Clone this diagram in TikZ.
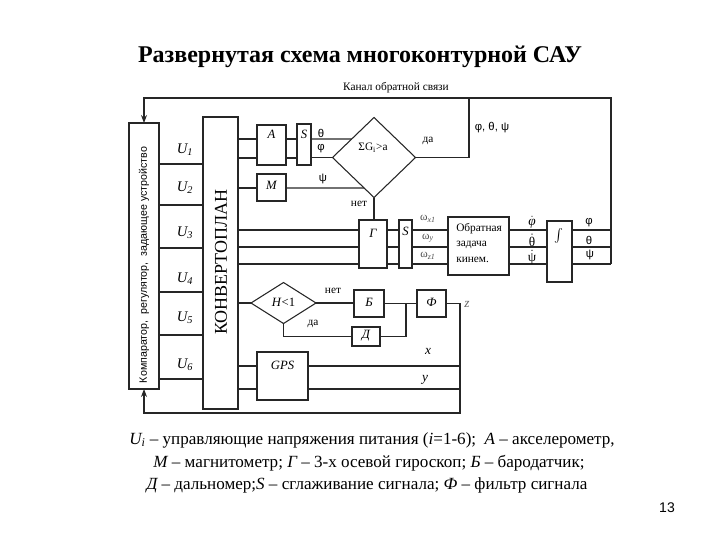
\documentclass[tikz,border=0pt]{standalone}
\usepackage{fontspec}
\setmainfont{Liberation Serif}
\setsansfont{Liberation Sans}
\usetikzlibrary{arrows.meta,shapes.geometric,calc}
\begin{document}
\begin{tikzpicture}[x=0.75pt,y=-0.75pt,
  ln/.style={draw=black!85, line width=0.8pt},
  blk/.style n args={2}{draw=black!85, line width=0.8pt, rectangle, inner sep=0pt, outer sep=0pt, minimum width=#1*0.75pt, minimum height=#2*0.75pt},
  dia/.style n args={2}{draw=black!85, line width=0.8pt, diamond, inner sep=0pt, outer sep=0pt, minimum width=#1*0.75pt, minimum height=#2*0.75pt},
  lbl/.style={inner sep=0pt, font=\fontsize{8.5}{10}\selectfont},
  dl/.style={inner sep=0pt, font=\fontsize{10}{10}\selectfont},
  gr/.style={inner sep=0pt, font=\sffamily\fontsize{8.5}{10}\selectfont},
  bl/.style={inner sep=0pt, font=\itshape\fontsize{9.5}{11}\selectfont},
  ul/.style={inner sep=0pt, font=\itshape\fontsize{11}{12}\selectfont},
  leg/.style={inner sep=0pt, font=\fontsize{12.8}{14}\selectfont},
  arr/.style={-{Stealth[length=6pt,width=4.5pt]}}]
\useasboundingbox (0,0) rectangle (720,540);

% title
\node[font=\bfseries\fontsize{18}{20}\selectfont] (title) at (360,57) {Развернутая схема многоконтурной САУ};

% main blocks
\node[blk={30}{266}] (comp) at (144,256) {};
\node[rotate=90, inner sep=0pt, font=\sffamily\fontsize{8}{9}\selectfont] (comptxt) at (144,265) {Компаратор,\ \ регулятор,\ \ задающее устройство};
\node[blk={35}{292}] (konv) at (220.5,263) {};
\node[rotate=90, inner sep=0pt, font=\fontsize{13.5}{15}\selectfont] (konvtxt) at (221,262) {КОНВЕРТОПЛАН};

\node[blk={29}{40}] (A) at (271.5,145) {};
\node[bl] (Atxt) at (271.5,134) {A};
\node[blk={14}{41}] (S1) at (304,144.5) {};
\node[bl] (S1txt) at (304,134) {S};
\node[blk={29}{27}] (M) at (271.5,187.5) {};
\node[bl] (Mtxt) at (271.5,185) {M};
\node[dia={83}{80}] (D1) at (374,157.5) {};
\node[lbl] (D1txt) at (373,148) {ΣG\textsubscript{i}>a};

\node[blk={28}{48}] (G) at (373,244) {};
\node[bl] (Gtxt) at (373,233) {Г};
\node[blk={13}{48}] (S2) at (405.5,244) {};
\node[bl] (S2txt) at (405.5,231) {S};
\node[blk={61}{58}] (OZK) at (478.5,246) {};
\node[lbl, align=left, anchor=west, font=\fontsize{8.5}{11.5}\selectfont] (OZKtxt) at (456,243) {Обратная\\задача\\кинем.};
\node[blk={25}{61}] (INT) at (559.5,251.5) {};
\node[lbl] (INTtxt) at (559,236) {$\int$};

\node[dia={65}{41}] (H) at (283.5,303) {};
\node[lbl, font=\fontsize{9.5}{11}\selectfont] (Htxt) at (283.5,302) {\textit{H}<1};
\node[blk={30}{27}] (B) at (369,303.5) {};
\node[bl] (Btxt) at (369,302) {Б};
\node[blk={29}{27}] (F) at (431.5,303.5) {};
\node[bl] (Ftxt) at (431.5,302) {Ф};
\node[blk={28}{19}] (D) at (366,336.5) {};
\node[bl] (Dtxt) at (366,336) {Д};
\node[blk={51}{48}] (GPS) at (282.5,376) {};
\node[bl] (GPStxt) at (282.5,365) {GPS};

% U lines
\foreach \y/\i/\ly in {164/1/150,205/2/188,248/3/233,292/4/279,335/5/318,379/6/365}{
  \draw[ln] (comp.east |- 0,\y) -- (konv.west |- 0,\y);
  \node[ul] at (185,\ly) {U\textsubscript{\i}};
}

% A / S / M to diamond
\draw[ln] (konv.east |- 0,139) -- (A.west |- 0,139);
\draw[ln] (konv.east |- 0,158) -- (A.west |- 0,158);
\draw[ln] (A.east |- 0,139) -- (S1.west |- 0,139);
\draw[ln] (A.east |- 0,158) -- (S1.west |- 0,158);
\draw[ln] (S1.east |- 0,139) -- ($(D1.north)!0.5375!(D1.west)$);
\draw[ln] (S1.east |- 0,157.5) -- (D1.west);
\draw[ln] (konv.east |- 0,188) -- (M.west |- 0,188);
\draw[ln] (M.east |- 0,188) -- ($(D1.west)!0.7625!(D1.south)$);
\node[gr] at (321,133) {θ};
\node[gr] at (321,149) {φ};
\node[gr] at (323,179) {ψ};
\node[lbl] at (428,141) {да};
\node[lbl] at (359,204) {нет};
\draw[ln] (D1.south) -- (D1.south |- G.north);

% feedback loop top
\coordinate (rv) at (611,264);
\coordinate (tr) at (611,98);
\coordinate (tl) at (144,98);
\coordinate (dajoin) at (469,98);
\draw[ln, arr] (rv) -- (tr) -- (tl) -- (comp.north);
\draw[ln] (D1.east) -| (dajoin);
\node[lbl] at (396,88) {Канал обратной связи};
\node[gr] at (492,128) {φ, θ, ψ};

% gyro chain
\foreach \y in {230,247,264}{
  \draw[ln] (konv.east |- 0,\y) -- (G.west |- 0,\y);
  \draw[ln] (G.east |- 0,\y) -- (S2.west |- 0,\y);
  \draw[ln] (S2.east |- 0,\y) -- (OZK.west |- 0,\y);
  \draw[ln] (OZK.east |- 0,\y) -- (INT.west |- 0,\y);
  \draw[ln] (INT.east |- 0,\y) -- (rv |- 0,\y);
}
\node[lbl, text=black!70] at (428,219) {ω\textsubscript{\itshape x1}};
\node[lbl, text=black!70] at (428,238) {ω\textsubscript{\itshape y}};
\node[lbl, text=black!70] at (428,256) {ω\textsubscript{\itshape z1}};
\node[dl] (phd) at (532,224) {\itshape φ};
\node[dl] (thd) at (532,241.5) {θ};
\node[dl] (psd) at (532,258.5) {ψ};
\fill[black!85] ([yshift=2.2pt]phd.north) circle (0.55pt);
\fill[black!85] ([yshift=1.8pt]thd.north) circle (0.55pt);
\fill[black!85] ([yshift=1.8pt]psd.north) circle (0.55pt);
\node[gr] at (589,223) {φ};
\node[gr] at (589,240) {θ};
\node[gr] at (590,255) {ψ};

% altitude chain
\coordinate (jn) at (406,303.5);
\coordinate (zr) at (460,303.5);
\coordinate (br) at (460,413);
\draw[ln] (konv.east |- H.west) -- (H.west);
\draw[ln] (H.east) -- (B.west |- H.east);
\draw[ln] (B.east) -- (F.west);
\draw[ln] (H.south) |- (D.west);
\draw[ln] (D.east) -| (jn);
\node[lbl] at (333,291) {нет};
\node[lbl] at (313,324) {да};
\node[inner sep=0pt, font=\itshape\fontsize{10}{11}\selectfont, text=black!60] at (467,304) {z};

% GPS
\draw[ln] (konv.east |- 0,366) -- (GPS.west |- 0,366);
\draw[ln] (konv.east |- 0,389) -- (GPS.west |- 0,389);
\draw[ln] (GPS.east |- 0,366) -- (br |- 0,366);
\draw[ln] (GPS.east |- 0,389) -- (br |- 0,389);
\node[inner sep=0pt, font=\itshape\fontsize{10}{11}\selectfont] at (428,351) {x};
\node[inner sep=0pt, font=\itshape\fontsize{10}{11}\selectfont] at (425,380) {y};

% feedback loop bottom
\draw[ln, arr] (F.east) -- (zr) -- (br) -- (comp.south |- br) -- (comp.south);

% legend
\node[leg] (leg1) at (372,440) {{\itshape U\textsubscript{i}} – управляющие напряжения питания ({\itshape i}=1-6);\ \ {\itshape А} – акселерометр,};
\node[leg] (leg2) at (369,463) {{\itshape М} – магнитометр; {\itshape Г} – 3-х осевой гироскоп; {\itshape Б} – бародатчик;};
\node[leg] (leg3) at (367,485) {{\itshape Д} – дальномер;{\itshape S} – сглаживание сигнала; {\itshape Ф} – фильтр сигнала};
\node[inner sep=0pt, font=\sffamily\fontsize{10.5}{12}\selectfont] (pg) at (667,508) {13};
\end{tikzpicture}
\end{document}
